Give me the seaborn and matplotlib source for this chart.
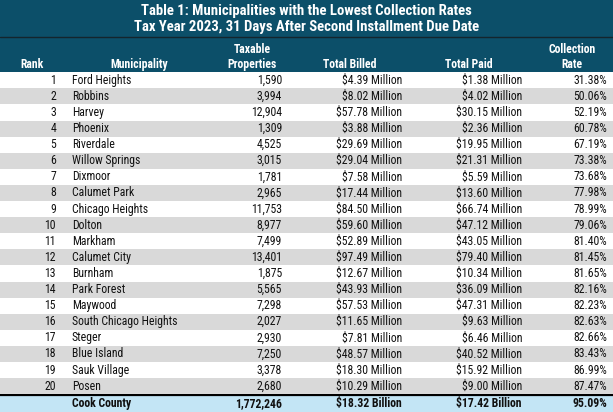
import numpy as np
import matplotlib
matplotlib.use('Agg')
import matplotlib.pyplot as plt
import seaborn as sns
from matplotlib.colors import ListedColormap

title_lines = ['Table 1: Municipalities with the Lowest Collection Rates',
               'Tax Year 2023, 31 Days After Second Installment Due Date']

ranks = list(range(1, 21))
municipalities = ['Ford Heights', 'Robbins', 'Harvey', 'Phoenix', 'Riverdale',
                  'Willow Springs', 'Dixmoor', 'Calumet Park', 'Chicago Heights',
                  'Dolton', 'Markham', 'Calumet City', 'Burnham', 'Park Forest',
                  'Maywood', 'South Chicago Heights', 'Steger', 'Blue Island',
                  'Sauk Village', 'Posen']
taxable = [1590, 3994, 12904, 1309, 4525, 3015, 1781, 2965, 11753, 8977,
           7499, 13401, 1875, 5565, 7298, 2027, 2930, 7250, 3378, 2680]
billed = [4.39, 8.02, 57.78, 3.88, 29.69, 29.04, 7.58, 17.44, 84.50, 59.60,
          52.89, 97.49, 12.67, 43.93, 57.53, 11.65, 7.81, 48.57, 18.30, 10.29]
paid = [1.38, 4.02, 30.15, 2.36, 19.95, 21.31, 5.59, 13.60, 66.74, 47.12,
        43.05, 79.40, 10.34, 36.09, 47.31, 9.63, 6.46, 40.52, 15.92, 9.00]
rate = [31.38, 50.06, 52.19, 60.78, 67.19, 73.38, 73.68, 77.98, 78.99, 79.06,
        81.40, 81.45, 81.65, 82.16, 82.23, 82.63, 82.66, 83.43, 86.99, 87.47]

county_name = 'Cook County'
county_taxable = 1772246
county_billed = 18.32
county_paid = 17.42
county_rate = 95.09

TEAL = '#0c4f69'
GREY = '#d9d9d9'
LIGHT_BLUE = '#c3e5f5'

W, H = 613, 412
HEAD_TOP = 36.5    # bottom of title band
HEAD_BOT = 72.2    # bottom of column header band
BODY_BOT = 394.2   # bottom of the 20 ranked rows

sns.set_theme(style='white')
plt.rcParams['font.family'] = ['Roboto Condensed', 'Liberation Sans Narrow', 'Roboto', 'DejaVu Sans']

fig = plt.figure(figsize=(W / 100, H / 100), dpi=100)

# title + header in pixel coords
ax = fig.add_axes([0, 0, 1, 1])
ax.set_xlim(0, W)
ax.set_ylim(H, 0)
ax.axis('off')
ax.axhspan(0, HEAD_BOT, color=TEAL, lw=0)
ax.axhline(HEAD_TOP, color='#14252d', lw=1)
ax.text(W / 2, 11, title_lines[0], ha='center', va='center', color='white',
        fontsize=10.6, fontweight='bold')
ax.text(W / 2, 27.3, title_lines[1], ha='center', va='center', color='white',
        fontsize=10.6, fontweight='bold')

hdr = dict(color='white', fontsize=8.5, fontweight='bold', va='center', ha='center')
y1, y2 = 49, 64
ax.text(32, y2, 'Rank', **hdr)
ax.text(139, y2, 'Municipality', **hdr)
ax.text(252, y1, 'Taxable', **hdr)
ax.text(252, y2, 'Properties', **hdr)
ax.text(350, y2, 'Total Billed', **hdr)
ax.text(469, y2, 'Total Paid', **hdr)
ax.text(572, y1, 'Collection', **hdr)
ax.text(572, y2, 'Rate', **hdr)

# ranked rows as a one-column heatmap (0 white, 1 grey)
shade = np.array([i % 2 for i in range(len(ranks))]).reshape(-1, 1)
hm = fig.add_axes([0, (H - BODY_BOT) / H, 1, (BODY_BOT - HEAD_BOT) / H])
sns.heatmap(shade, ax=hm, cmap=ListedColormap(['white', GREY]),
            vmin=-0.5, vmax=1.5, cbar=False, xticklabels=False, yticklabels=False)

# county total row
tot = fig.add_axes([0, 0, 1, (H - BODY_BOT) / H])
sns.heatmap(np.array([[0]]), ax=tot, cmap=ListedColormap([LIGHT_BLUE]),
            cbar=False, xticklabels=False, yticklabels=False)


def px(x):
    return x / W


body = dict(fontsize=8.5, va='center', color='#111111')
for i in range(len(ranks)):
    y = i + 0.5
    hm.text(px(56), y, str(ranks[i]), ha='right', **body)
    hm.text(px(72), y, municipalities[i], ha='left', **body)
    hm.text(px(282), y, f'{taxable[i]:,}', ha='right', **body)
    hm.text(px(402), y, f'${billed[i]:.2f} Million', ha='right', **body)
    hm.text(px(522), y, f'${paid[i]:.2f} Million', ha='right', **body)
    hm.text(px(607), y, f'{rate[i]:.2f}%', ha='right', **body)

y = 0.55
bold = dict(body, fontweight='bold')
tot.text(px(72), y, county_name, ha='left', **bold)
tot.text(px(282), y, f'{county_taxable:,}', ha='right', **bold)
tot.text(px(402), y, f'${county_billed:.2f} Billion', ha='right', **bold)
tot.text(px(522), y, f'${county_paid:.2f} Billion', ha='right', **bold)
tot.text(px(607), y, f'{county_rate:.2f}%', ha='right', **bold)
tot.axhline(0.07, color='black', lw=1.6)

fig.savefig('out.png', dpi=100)
